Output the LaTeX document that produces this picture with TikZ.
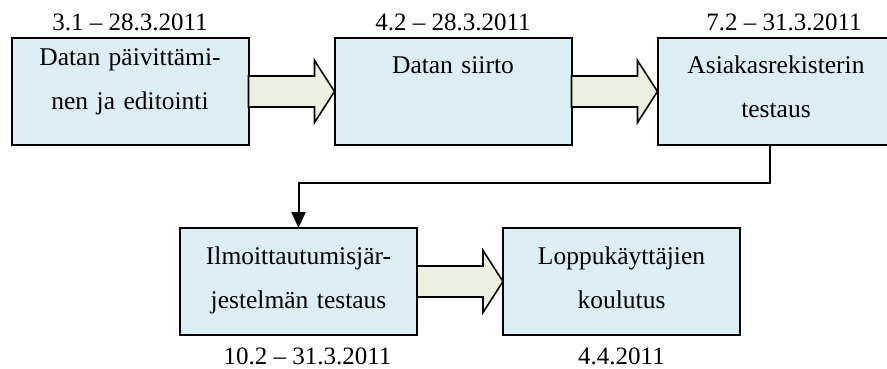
\documentclass[tikz,border=0pt]{standalone}
\usepackage{fontspec}
\setmainfont{Liberation Serif}
\usepackage{xcolor}
\usepackage{tikz}
\usetikzlibrary{arrows.meta,positioning,calc}

\definecolor{boxblue}{HTML}{DBEEF3}
\definecolor{arrgreen}{HTML}{EBF1DE}

% block arrow from one box to the next
\newcommand{\fatarrow}[2]{%
  \draw[fatarr] let \p1=(#1.east), \p2=(#2.west) in
    (\x1,\y1+15.5pt) -- (\x2-20pt,\y1+15.5pt) -- (\x2-20pt,\y1+31pt)
    -- (\x2,\y1) -- (\x2-20pt,\y1-31pt) -- (\x2-20pt,\y1-15.5pt)
    -- (\x1,\y1-15.5pt) -- cycle;}

\begin{document}
\begin{tikzpicture}[
    x=1pt, y=1pt,
    node distance=86pt,
    phase/.style={rectangle, draw=black, fill=boxblue, line width=2pt, inner sep=0pt, outer sep=0pt,
      text width=237pt, align=center, minimum height=107pt, text height=36pt, text depth=71pt,
      font=\fontsize{25.5}{44}\selectfont},
    datetxt/.style={anchor=base, inner sep=0pt, font=\fontsize{25}{30}\selectfont},
    fatarr/.style={draw=black, fill=arrgreen, line width=1.6pt},
    conn/.style={-{Triangle[length=16pt,width=14pt]}, line width=2pt, draw=black}
]
    \useasboundingbox (0,0) rectangle (887,-369);

    \node [phase, text height=28pt, text depth=79pt] (upd) at (130,-91.5) {Datan päivittämi-\\nen ja editointi};
    \node [phase, right=of upd] (move) {Datan siirto};
    \node [phase, right=of move] (cust) {Asiakasrekisterin\\testaus};
    \node [phase] (enrol) at (298.5,-281.5) {Ilmoittautumisjär-\\jestelmän testaus};
    \node [phase, right=of enrol] (train) {Loppukäyttäjien\\koulutus};

    \node [datetxt] (dupd) at ([yshift=7pt]upd.north) {3.1 – 28.3.2011};
    \node [datetxt] (dmove) at ([yshift=7pt]move.north) {4.2 – 28.3.2011};
    \node [datetxt] (dcust) at ([xshift=8pt, yshift=7pt]cust.north) {7.2 – 31.3.2011};
    \node [datetxt] (denrol) at ([xshift=9pt, yshift=-29pt]enrol.south) {10.2 – 31.3.2011};
    \node [datetxt] (dtrain) at ([yshift=-29pt]train.south) {4.4.2011};

    \fatarrow{upd}{move}
    \fatarrow{move}{cust}
    \fatarrow{enrol}{train}

    \draw [conn] ([xshift=-6pt]cust.south) -- ++(0,-38) -| (enrol.north);
\end{tikzpicture}
\end{document}
